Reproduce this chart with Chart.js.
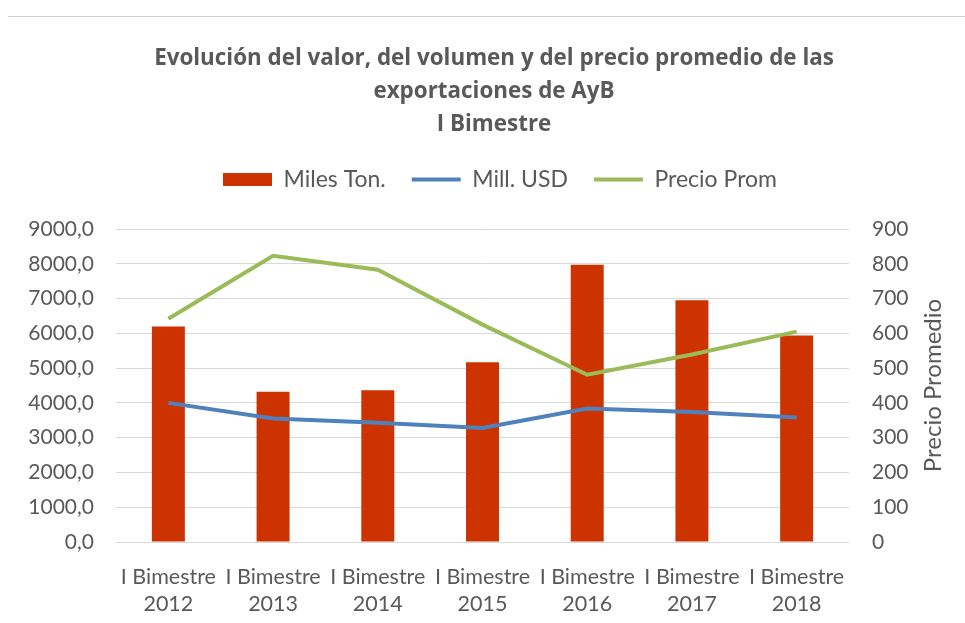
<!DOCTYPE html>
<html>
<head>
<meta charset="utf-8">
<script src="https://cdn.jsdelivr.net/npm/chart.js@4/dist/chart.umd.min.js"></script>
<style>
  html, body { margin: 0; padding: 0; background: #fff; }
  #wrap { position: relative; width: 965px; height: 623px; }
  #topline { position: absolute; left: 8px; right: 0; top: 16px; height: 1px; background: #d0d0d0; }
</style>
</head>
<body>
<div id="wrap">
  <div id="topline"></div>
  <canvas id="chart" width="965" height="623"></canvas>
</div>
<script>
// data
var period = 'I Bimestre';
var years = ['2012', '2013', '2014', '2015', '2016', '2017', '2018'];
var milesTon = [6200, 4320, 4360, 5170, 7970, 6950, 5940];
var millUSD = [4000, 3550, 3430, 3280, 3840, 3740, 3580];
var precioProm = [642, 823, 783, 625, 481, 539, 605];
var leftTicks = [0, 1000, 2000, 3000, 4000, 5000, 6000, 7000, 8000, 9000];
var rightTitle = 'Precio Promedio';

var grey = '#595959';
var fontFamily = 'Lato, "Open Sans", sans-serif';

var labels = years.map(function(y) { return [period, y]; });

/** Excel-ish tweaks: gap under the legend, title/legend a bit right of centre,
 *  and the right axis title read bottom-to-top */
var excelLook = {
  id: 'excelLook',
  beforeLayout: function(chart) {
    var lg = chart.legend;
    if (lg && !lg._gapDone) {
      var fit = lg.fit;
      lg.fit = function() {
        fit.call(this);
        this.height += 28;
      };
      lg._gapDone = true;
    }
  },
  afterLayout: function(chart) {
    chart.titleBlock.left += 11.5;
    chart.titleBlock.right += 11.5;
    chart.legend.left += 17.5;
    chart.legend.right += 17.5;
  },
  afterDraw: function(chart) {
    var c = chart.ctx;
    var area = chart.chartArea;
    c.save();
    c.translate(933, (area.top + area.bottom) / 2);
    c.rotate(-Math.PI / 2);
    c.font = '24px ' + fontFamily;
    c.fillStyle = grey;
    c.textAlign = 'center';
    c.textBaseline = 'middle';
    c.fillText(rightTitle, 0, 0);
    c.restore();
  }
};

var config = {
  data: {
    labels: labels,
    datasets: [
      {
        type: 'line',
        label: 'Mill. USD',
        data: millUSD,
        yAxisID: 'y',
        borderColor: '#4f81bd',
        backgroundColor: '#4f81bd',
        borderWidth: 4,
        pointRadius: 0,
        tension: 0,
        order: 1
      },
      {
        type: 'line',
        label: 'Precio Prom',
        data: precioProm,
        yAxisID: 'y2',
        borderColor: '#9bbb59',
        backgroundColor: '#9bbb59',
        borderWidth: 4,
        pointRadius: 0,
        tension: 0,
        order: 0
      },
      {
        type: 'bar',
        label: 'Miles Ton.',
        data: milesTon,
        yAxisID: 'y',
        backgroundColor: '#cc3300',
        borderWidth: 0,
        categoryPercentage: 1,
        barPercentage: 0.315,
        order: 2
      }
    ]
  },
  plugins: [excelLook],
  options: {
    responsive: false,
    animation: false,
    layout: { padding: 0 },
    plugins: {
      title: {
        display: true,
        text: ['Evolución del valor, del volumen y del precio promedio de las', 'exportaciones de AyB', 'I Bimestre'],
        color: grey,
        font: { family: '"Open Sans", Lato, sans-serif', size: 22.4, weight: 'bold', lineHeight: '33px' },
        padding: { top: 42, bottom: 1 }
      },
      legend: {
        display: true,
        labels: {
          color: grey,
          font: { family: fontFamily, size: 23 },
          usePointStyle: true,
          pointStyleWidth: 49,
          boxHeight: 13,
          padding: 26,
          generateLabels: function(chart) {
            var order = [2, 0, 1];
            return order.map(function(i) {
              var ds = chart.data.datasets[i];
              var isBar = ds.type === 'bar';
              return {
                text: ds.label,
                fillStyle: ds.backgroundColor,
                strokeStyle: isBar ? ds.backgroundColor : ds.borderColor,
                lineWidth: isBar ? 0 : 4,
                pointStyle: isBar ? 'rect' : 'line',
                fontColor: grey,
                datasetIndex: i
              };
            });
          }
        }
      },
      tooltip: { enabled: false }
    },
    scales: {
      x: {
        grid: { display: false, drawTicks: false },
        border: { display: false },
        ticks: {
          color: grey,
          font: { family: fontFamily, size: 21.5, lineHeight: 1.256 },
          padding: 22,
          maxRotation: 0,
          autoSkip: false
        },
        afterFit: function(scale) { scale.height = 81; }
      },
      y: {
        position: 'left',
        min: 0,
        max: 9000,
        afterBuildTicks: function(scale) {
          scale.ticks = leftTicks.map(function(v) { return { value: v }; });
        },
        grid: { color: '#d9d9d9', lineWidth: 1, drawTicks: false },
        border: { display: false },
        ticks: {
          color: grey,
          font: { family: fontFamily, size: 21 },
          padding: 22,
          callback: function(v) { return v.toFixed(1).replace('.', ','); }
        },
        afterFit: function(scale) { scale.width = 116; }
      },
      y2: {
        position: 'right',
        min: 0,
        max: 900,
        grid: { display: false, drawTicks: false },
        border: { display: false },
        ticks: {
          color: grey,
          stepSize: 100,
          font: { family: fontFamily, size: 21 },
          padding: 23
        },
        afterFit: function(scale) { scale.width = 116; }
      }
    }
  }
};

var ctx = document.getElementById('chart').getContext('2d');
window.chart = new Chart(ctx, config);
</script>
</body>
</html>
